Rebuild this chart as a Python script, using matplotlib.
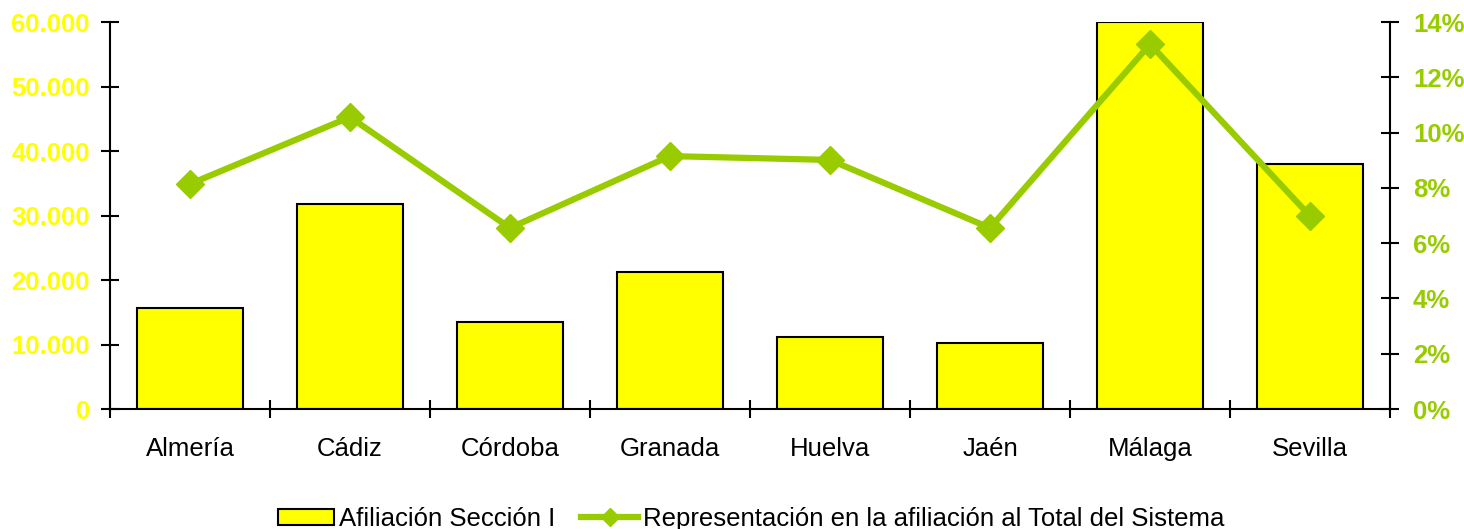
import numpy as np
import matplotlib
matplotlib.use("Agg")
import matplotlib.pyplot as plt
from matplotlib.lines import Line2D
from matplotlib.ticker import FuncFormatter, MultipleLocator

provincias = ["Almería", "Cádiz", "Córdoba", "Granada", "Huelva", "Jaén", "Málaga", "Sevilla"]
afiliacion = [15600, 31800, 13500, 21200, 11200, 10200, 60000, 38000]
representacion = [8.14, 10.56, 6.55, 9.15, 9.01, 6.55, 13.2, 6.98]

YELLOW = "#FFFF00"
GREEN = "#99CC00"
FS = 18.5

plt.rcParams["font.family"] = ["Liberation Sans", "DejaVu Sans"]

fig = plt.figure(figsize=(14.64, 5.29), dpi=100)
ax = fig.add_axes([0.0751, 0.2268, 0.8744, 0.7316])
x = np.arange(len(provincias))

bars = ax.bar(x, afiliacion, width=0.66, color=YELLOW, edgecolor="black",
              linewidth=1.5, label="Afiliación Sección I", zorder=2)
ax.set_xlim(-0.5, len(provincias) - 0.5)
ax.set_ylim(0, 60000)
ax.yaxis.set_major_locator(MultipleLocator(10000))
ax.yaxis.set_major_formatter(FuncFormatter(lambda v, p: f"{v:,.0f}".replace(",", ".")))

ax.set_xticks(x)
ax.set_xticklabels(provincias, fontsize=FS)
ax.set_xticks(np.arange(-0.5, len(provincias)), minor=True)
ax.tick_params(axis="x", which="major", length=0, pad=20)
ax.tick_params(axis="x", which="minor", direction="inout", length=13, width=1.5)
ax.tick_params(axis="y", direction="inout", length=13, width=1.5,
               labelcolor=YELLOW, labelsize=FS, pad=8)
for lbl in ax.get_yticklabels():
    lbl.set_fontweight("bold")

ax.spines["top"].set_visible(False)
ax.spines["right"].set_visible(False)
for s in ("left", "bottom"):
    ax.spines[s].set_linewidth(1.5)

ax2 = ax.twinx()
line, = ax2.plot(x, representacion, color=GREEN, linewidth=4.5, marker="D",
                 markersize=14, label="Representación en la afiliación al Total del Sistema")
ax2.set_ylim(0, 14)
ax2.yaxis.set_major_locator(MultipleLocator(2))
ax2.yaxis.set_major_formatter(FuncFormatter(lambda v, p: f"{v:.0f}%"))
ax2.tick_params(axis="y", direction="inout", length=13, width=1.5,
                labelcolor=GREEN, labelsize=FS, pad=10)
for lbl in ax2.get_yticklabels():
    lbl.set_fontweight("bold")
ax2.spines["top"].set_visible(False)
ax2.spines["left"].set_visible(False)
ax2.spines["bottom"].set_visible(False)
ax2.spines["right"].set_linewidth(1.5)

line_handle = Line2D([], [], color=GREEN, linewidth=4.5, marker="D", markersize=9)
fig.legend([bars, line_handle], [bars.get_label(), line.get_label()], loc="lower center",
           bbox_to_anchor=(0.513, -0.047), ncol=2, frameon=False, fontsize=FS,
           handlelength=2.2, handleheight=0.6, handletextpad=0.2, columnspacing=1.0)

fig.savefig("out.png", dpi=100)
